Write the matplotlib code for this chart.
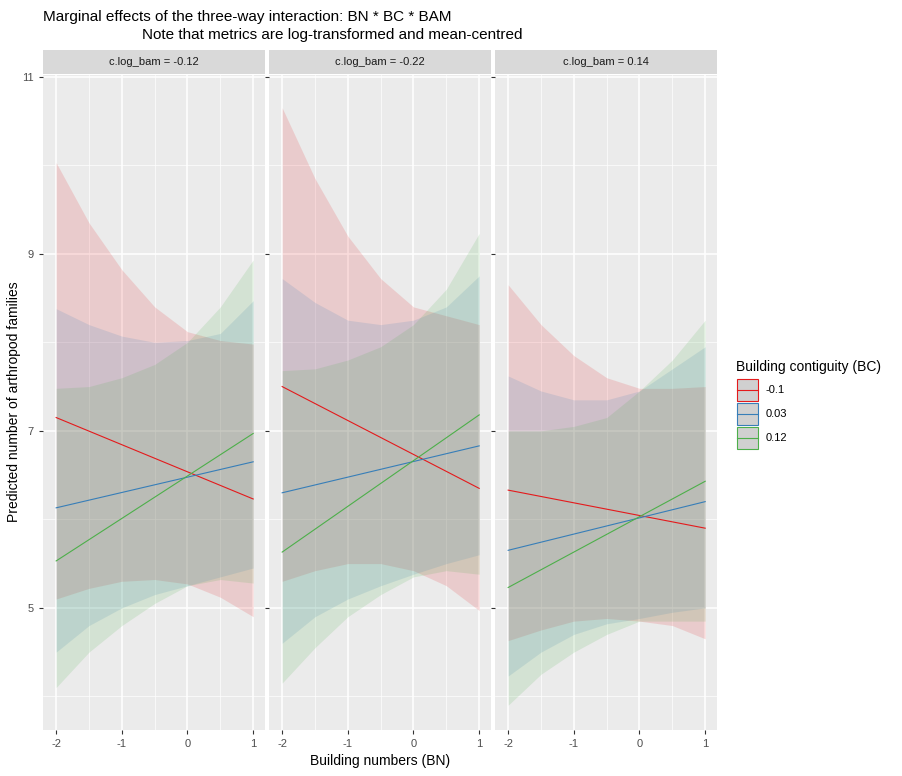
import numpy as np
import matplotlib.pyplot as plt
from matplotlib.patches import Rectangle
from matplotlib.lines import Line2D

plt.rcParams['font.family'] = ['Liberation Sans', 'DejaVu Sans']

# x grid at which the ribbons were read
bn = [-2, -1.5, -1, -0.5, 0, 0.5, 1]
panels = ["c.log_bam = -0.12", "c.log_bam = -0.22", "c.log_bam = 0.14"]
bc_levels = ["-0.1", "0.03", "0.12"]
colors = ["#E41A1C", "#377EB8", "#4DAF4A"]

# predicted lines at BN = -2 and BN = 1 : [red, blue, green]
line_ends = [
    [(7.15, 6.23), (6.13, 6.65), (5.53, 6.97)],
    [(7.50, 6.35), (6.30, 6.83), (5.63, 7.18)],
    [(6.33, 5.90), (5.65, 6.20), (5.23, 6.43)],
]
upper = [
    [[10.03, 9.35, 8.82, 8.40, 8.12, 8.02, 7.98],
     [8.38, 8.20, 8.07, 8.00, 8.02, 8.10, 8.47],
     [7.48, 7.50, 7.60, 7.75, 8.00, 8.40, 8.93]],
    [[10.65, 9.85, 9.20, 8.72, 8.40, 8.30, 8.20],
     [8.72, 8.45, 8.25, 8.20, 8.25, 8.40, 8.75],
     [7.68, 7.70, 7.80, 7.95, 8.20, 8.60, 9.23]],
    [[8.65, 8.20, 7.85, 7.60, 7.48, 7.48, 7.50],
     [7.62, 7.45, 7.35, 7.35, 7.45, 7.70, 7.95],
     [7.00, 7.00, 7.05, 7.15, 7.45, 7.80, 8.25]],
]
lower = [
    [[5.10, 5.22, 5.30, 5.32, 5.27, 5.12, 4.90],
     [4.50, 4.80, 5.00, 5.15, 5.25, 5.35, 5.45],
     [4.10, 4.50, 4.80, 5.05, 5.25, 5.32, 5.28]],
    [[5.30, 5.42, 5.50, 5.50, 5.42, 5.25, 4.97],
     [4.60, 4.90, 5.10, 5.25, 5.38, 5.50, 5.60],
     [4.15, 4.55, 4.90, 5.15, 5.35, 5.42, 5.38]],
    [[4.63, 4.75, 4.85, 4.88, 4.85, 4.80, 4.65],
     [4.23, 4.50, 4.70, 4.82, 4.88, 4.95, 5.00],
     [3.90, 4.25, 4.50, 4.70, 4.85, 4.85, 4.85]],
]

W, H = 902, 776
fig = plt.figure(figsize=(W / 100, H / 100), dpi=100)
lefts = [43, 269, 495]
pw = 222
top, bot = 75, 730

for p, name in enumerate(panels):
    ax = fig.add_axes([lefts[p] / W, 1 - bot / H, pw / W, (bot - top) / H])
    ax.set_facecolor("#EBEBEB")
    for v in [4, 6, 8, 10]:
        ax.axhline(v, color="white", lw=0.5, zorder=0)
    for v in [-1.5, -0.5, 0.5]:
        ax.axvline(v, color="white", lw=0.5, zorder=0)
    for v in [5, 7, 9, 11]:
        ax.axhline(v, color="white", lw=1.1, zorder=0)
    for v in [-2, -1, 0, 1]:
        ax.axvline(v, color="white", lw=1.1, zorder=0)
    for k in range(3):
        ax.fill_between(bn, lower[p][k], upper[p][k], color=colors[k], alpha=0.15, lw=0)
        ax.plot([-2, 1], line_ends[p][k], color=colors[k], lw=0.8)
    ax.set_xlim(-2.2, 1.18)
    ax.set_ylim(3.62, 11.02)
    ax.set_xticks([-2, -1, 0, 1])
    ax.set_xticklabels(["-2", "-1", "0", "1"])
    ax.set_yticks([5, 7, 9, 11])
    if p > 0:
        ax.set_yticklabels([])
    for s in ax.spines.values():
        s.set_visible(False)
    ax.tick_params(colors="#333333", labelcolor="#4D4D4D", labelsize=8, length=3)
    # strip
    sax = fig.add_axes([lefts[p] / W, 1 - 74 / H, pw / W, 24 / H])
    sax.set_facecolor("#D9D9D9")
    sax.set_xticks([]); sax.set_yticks([])
    for s in sax.spines.values():
        s.set_visible(False)
    sax.text(0.5, 0.5, name, ha="center", va="center", fontsize=8, color="#1A1A1A")

fig.text(43 / W, 1 - 17 / H, "Marginal effects of the three-way interaction: BN * BC * BAM",
         fontsize=11, va="center")
fig.text(142 / W, 1 - 35 / H, "Note that metrics are log-transformed and mean-centred",
         fontsize=11, va="center")
fig.text((lefts[1] + pw / 2) / W, 1 - 761 / H, "Building numbers (BN)", ha="center",
         va="center", fontsize=10)
fig.text(14 / W, 1 - 402 / H, "Predicted number of arthropod families", rotation=90,
         ha="center", va="center", fontsize=10)

# legend
fig.text(736 / W, 1 - 367 / H, "Building contiguity (BC)", fontsize=10, va="center")
for k, lab in enumerate(bc_levels):
    yc = 390 + 24 * k
    fig.patches.append(Rectangle((737 / W, 1 - (yc + 11) / H), 21 / W, 22 / H,
                                 transform=fig.transFigure, facecolor="#D0D0D0",
                                 edgecolor=colors[k], lw=0.8))
    fig.lines.append(Line2D([737 / W, 758 / W], [1 - yc / H, 1 - yc / H],
                            transform=fig.transFigure, color=colors[k], lw=0.8))
    fig.text(766 / W, 1 - yc / H, lab, fontsize=8, va="center")

fig.savefig("out.png", dpi=100, facecolor="white")
